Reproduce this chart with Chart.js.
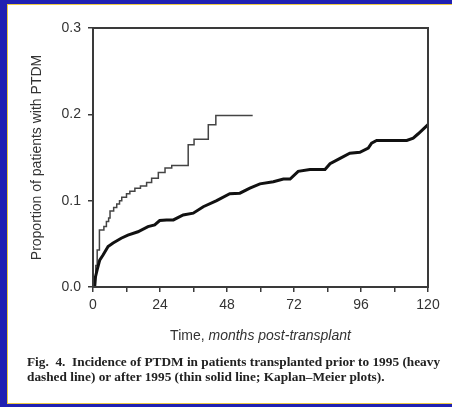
<!DOCTYPE html>
<html>
<head>
<meta charset="utf-8">
<script src="https://cdn.jsdelivr.net/npm/chart.js@4"></script>
<style>
  html, body { margin: 0; padding: 0; }
  body { width: 452px; height: 407px; overflow: hidden; position: relative; background: #2020b2; }
  #panel { position: absolute; left: 7px; top: 4px; width: 460px; height: 400px; background: #ffffff; border: 1.5px solid #ecca44; box-sizing: border-box; }
  #wrap { position: absolute; left: 0; top: 0; width: 452px; height: 407px; }
  #xtitle { position: absolute; left: 93px; width: 335px; top: 327px; text-align: center; font-family: "Liberation Sans", Arial, sans-serif; font-size: 14px; color: #333; }
  #caption { position: absolute; left: 27px; top: 354px; width: 425px; font-family: "Liberation Serif", "Times New Roman", serif; font-weight: bold; font-size: 13.3px; line-height: 15px; color: #222; white-space: nowrap; }
</style>
</head>
<body>
<div id="panel"></div>
<div id="wrap"><canvas id="c" width="452" height="407"></canvas></div>
<div id="xtitle">Time, <i>months post-transplant</i></div>
<div id="caption">Fig.&nbsp; 4.&nbsp; Incidence of PTDM in patients transplanted prior to 1995 (heavy<br>dashed line) or after 1995 (thin solid line; Kaplan–Meier plots).</div>
<script>
// Months after transplant (x) and cumulative proportion with PTDM (y)
const before1995Months = [0, 0.6, 0.9, 1.5, 2.4, 3.6, 5.4, 7.2, 10.1, 12.5, 16.1, 19.7, 22.1, 23.9, 26.3, 28.8, 32.3, 35.9, 39.5, 44.3, 49, 52.6, 56.2, 59.8, 64.6, 68.2, 70.6, 73.5, 77.7, 83.1, 84.9, 88.5, 92, 95.6, 98.6, 99.8, 101.6, 112.4, 114.7, 116.5, 120];
const before1995Values = [0, 0.0, 0.012, 0.020, 0.031, 0.037, 0.047, 0.051, 0.0565, 0.060, 0.064, 0.070, 0.072, 0.077, 0.0777, 0.0777, 0.0835, 0.0855, 0.093, 0.100, 0.108, 0.1087, 0.1145, 0.1195, 0.122, 0.125, 0.125, 0.134, 0.136, 0.136, 0.1427, 0.149, 0.155, 0.156, 0.161, 0.1667, 0.1697, 0.1697, 0.1725, 0.1775, 0.188];

const after1995Months = [0, 0.5, 1.0, 1.5, 2.3, 3.9, 4.8, 5.6, 6.1, 7.4, 8.5, 9.5, 10.3, 12.0, 13.2, 15.0, 17.0, 19.2, 21.0, 23.4, 25.8, 28.2, 34.1, 36.2, 41.3, 44.0, 57.2];
const after1995Values = [0, 0.012, 0.025, 0.043, 0.066, 0.070, 0.076, 0.080, 0.088, 0.092, 0.096, 0.100, 0.104, 0.108, 0.111, 0.1145, 0.117, 0.121, 0.126, 0.1326, 0.1377, 0.1407, 0.1647, 0.171, 0.188, 0.1987, 0.1987];

const xTickStep = 12;
const xLabelStep = 24;
const yTicks = [0, 0.1, 0.2, 0.3];

const toPoints = (xs, ys) => xs.map((x, i) => ({ x: x, y: ys[i] }));

const boxPlugin = {
  id: 'box',
  afterDatasetsDraw(chart) {
    const { ctx, chartArea: a } = chart;
    ctx.save();
    ctx.strokeStyle = '#3a3a3a';
    ctx.lineWidth = 2;
    ctx.strokeRect(a.left, a.top, a.right - a.left, a.bottom - a.top);
    ctx.restore();
  }
};

new Chart(document.getElementById('c'), {
  type: 'line',
  data: {
    datasets: [
      {
        label: 'Transplanted prior to 1995',
        data: toPoints(before1995Months, before1995Values),
        borderColor: '#111111',
        borderWidth: 3,
        pointRadius: 0,
        tension: 0,
        fill: false
      },
      {
        label: 'Transplanted after 1995',
        data: toPoints(after1995Months, after1995Values),
        borderColor: '#444444',
        borderWidth: 1.5,
        pointRadius: 0,
        stepped: 'before',
        fill: false
      }
    ]
  },
  options: {
    responsive: false,
    animation: false,
    events: [],
    layout: { padding: { left: 28, right: 24, top: 28, bottom: 90 } },
    plugins: { legend: { display: false }, tooltip: { enabled: false } },
    scales: {
      x: {
        type: 'linear',
        min: 0, max: 120,
        afterFit(s) { s.height = 30; },
        border: { display: true, color: '#3a3a3a', width: 2 },
        grid: { drawOnChartArea: false, drawTicks: true, tickLength: 5, color: '#3a3a3a', lineWidth: 1.5 },
        ticks: {
          stepSize: xTickStep,
          padding: 5,
          maxRotation: 0,
          autoSkip: false,
          color: '#333',
          font: { family: '"Liberation Sans", Arial, sans-serif', size: 14 },
          callback: v => (v % xLabelStep === 0 ? String(v) : '')
        }
      },
      y: {
        min: 0, max: 0.3,
        afterFit(s) { s.width = 65; },
        afterBuildTicks(s) { s.ticks = yTicks.map(v => ({ value: v })); },
        border: { display: true, color: '#3a3a3a', width: 2 },
        grid: { drawOnChartArea: false, drawTicks: true, tickLength: 5, color: '#3a3a3a', lineWidth: 1.5 },
        ticks: {
          padding: 7,
          color: '#333',
          font: { family: '"Liberation Sans", Arial, sans-serif', size: 14 },
          callback: v => Number(v).toFixed(1)
        },
        title: {
          display: true,
          text: 'Proportion of patients with PTDM',
          color: '#333',
          padding: { top: 1, bottom: 0 },
          font: { family: '"Liberation Sans", Arial, sans-serif', size: 14, weight: 'normal' }
        }
      }
    }
  },
  plugins: [boxPlugin]
});
</script>
</body>
</html>
